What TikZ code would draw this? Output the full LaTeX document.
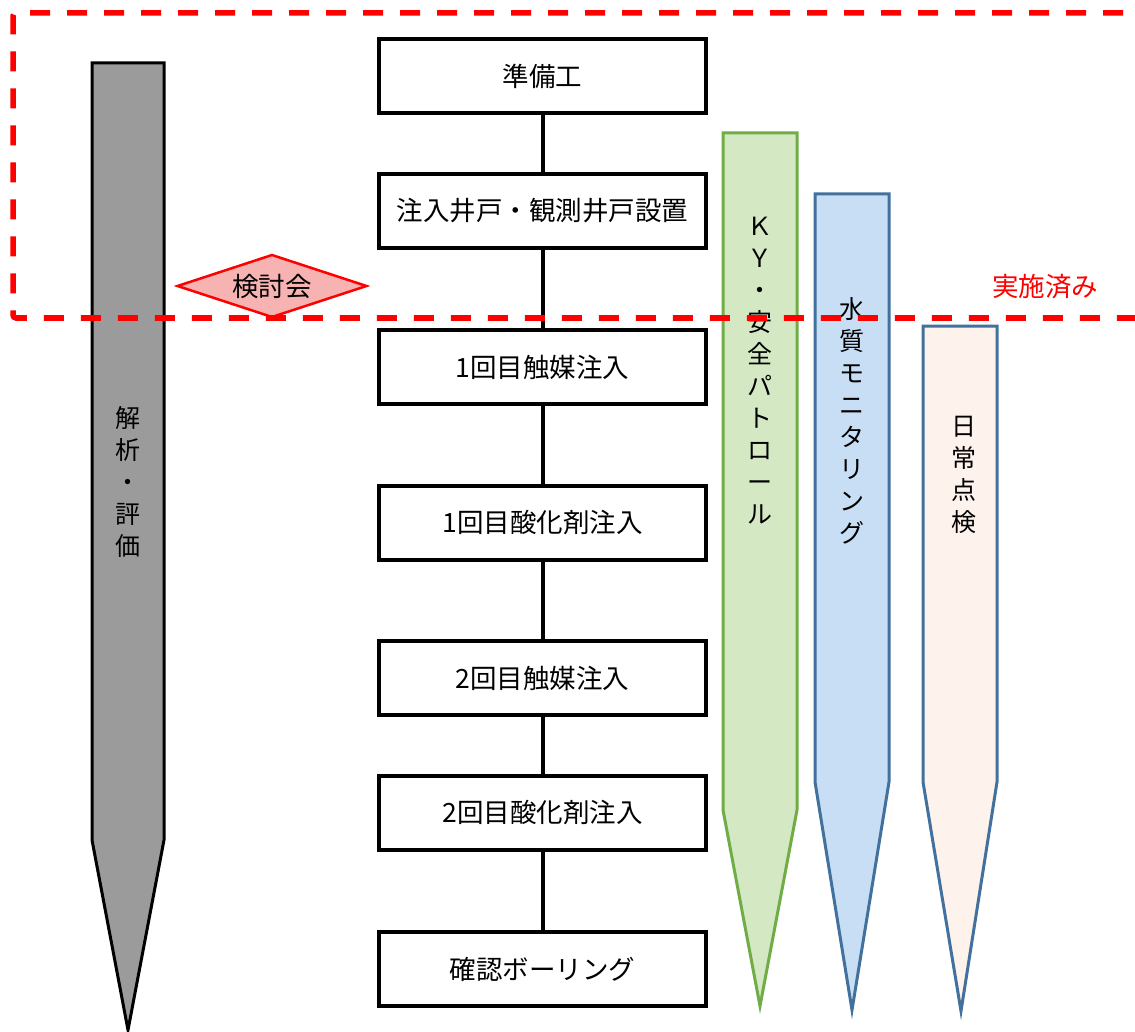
\documentclass[tikz,border=0pt]{standalone}
\usepackage{fontspec}
\newfontfamily\jp{Noto Sans CJK JP}
\usetikzlibrary{shapes.geometric}
\definecolor{pgray}{RGB}{155,155,155}
\definecolor{pgreenF}{RGB}{212,232,196}
\definecolor{pgreenE}{RGB}{112,173,71}
\definecolor{pblueF}{RGB}{200,222,244}
\definecolor{pblueE}{RGB}{65,113,156}
\definecolor{ppinkF}{RGB}{253,242,236}
\definecolor{dpink}{RGB}{247,178,178}
\definecolor{dred}{RGB}{255,0,0}
\tikzset{
  stepbox/.style={draw=black, line width=4pt, fill=white, minimum width=327pt, minimum height=74pt, inner sep=0pt, font={\jp\fontsize{26.5}{30}\selectfont}},
  conn/.style={draw=black, line width=4pt},
  pencil/.style={line width=3pt, line join=miter},
  vlabel/.style={align=center, inner sep=0pt, font={\jp\fontsize{25}{32}\selectfont}},
  donedash/.style={draw=dred, line width=5.5pt, dash pattern=on 20pt off 17pt}
}
\begin{document}
\begin{tikzpicture}[x=1pt,y=-1pt]
\useasboundingbox (0,0) rectangle (1135,1032);
% pencils
\draw[pencil, draw=black, fill=pgray] (92,63) -- (164,63) -- (164,840) -- (128,1030) -- (92,840) -- cycle;
\draw[pencil, draw=pgreenE, fill=pgreenF] (723,133) -- (797,133) -- (797,810) -- (760,1006) -- (723,810) -- cycle;
\draw[pencil, draw=pblueE, fill=pblueF] (815,194) -- (889,194) -- (889,782) -- (852,1010) -- (815,782) -- cycle;
\draw[pencil, draw=pblueE, fill=ppinkF] (923,326) -- (997,326) -- (997,782) -- (961,1011) -- (923,782) -- cycle;
\node[vlabel] (kaiseki) at (128,482) {解\\析\\・\\評\\価};
\node[vlabel] (ky) at (760,371) {Ｋ\\Ｙ\\・\\安\\全\\パ\\ト\\ロ\\ー\\ル};
\node[vlabel] (suishitsu) at (852,421) {水\\質\\モ\\ニ\\タ\\リ\\ン\\グ};
\node[vlabel] (nichijo) at (964,475) {日\\常\\点\\検};
% diamond
\node[diamond, aspect=3, draw=dred, line width=2.5pt, fill=dpink, minimum width=190pt, minimum height=63pt, inner sep=0pt, font={\jp\fontsize{26.5}{30}\selectfont}] (kentou) at (272,286) {検討会};
% steps
\node[stepbox] (b1) at (542.5,76) {準備工};
\node[stepbox] (b2) at (542.5,211) {注入井戸・観測井戸設置};
\node[stepbox] (b3) at (542.5,367) {1回目触媒注入};
\node[stepbox] (b4) at (542.5,522.5) {1回目酸化剤注入};
\node[stepbox] (b5) at (542.5,678) {2回目触媒注入};
\node[stepbox] (b6) at (542.5,812.5) {2回目酸化剤注入};
\node[stepbox] (b7) at (542.5,969) {確認ボーリング};
\draw[conn] (b1.south) -- (b2.north);
\draw[conn] (b2.south) -- (b3.north);
\draw[conn] (b3.south) -- (b4.north);
\draw[conn] (b4.south) -- (b5.north);
\draw[conn] (b5.south) -- (b6.north);
\draw[conn] (b6.south) -- (b7.north);
% done region
\node[text=dred, inner sep=0pt, font={\jp\fontsize{26.5}{30}\selectfont}] (done) at (1045,287) {実施済み};
\begin{scope}
\clip (0,0) rectangle (1135,1032);
\draw[donedash, rounded corners=3pt] (1160,13) -- (13,13) -- (13,318) -- (1160,318);
\end{scope}
\end{tikzpicture}
\end{document}
